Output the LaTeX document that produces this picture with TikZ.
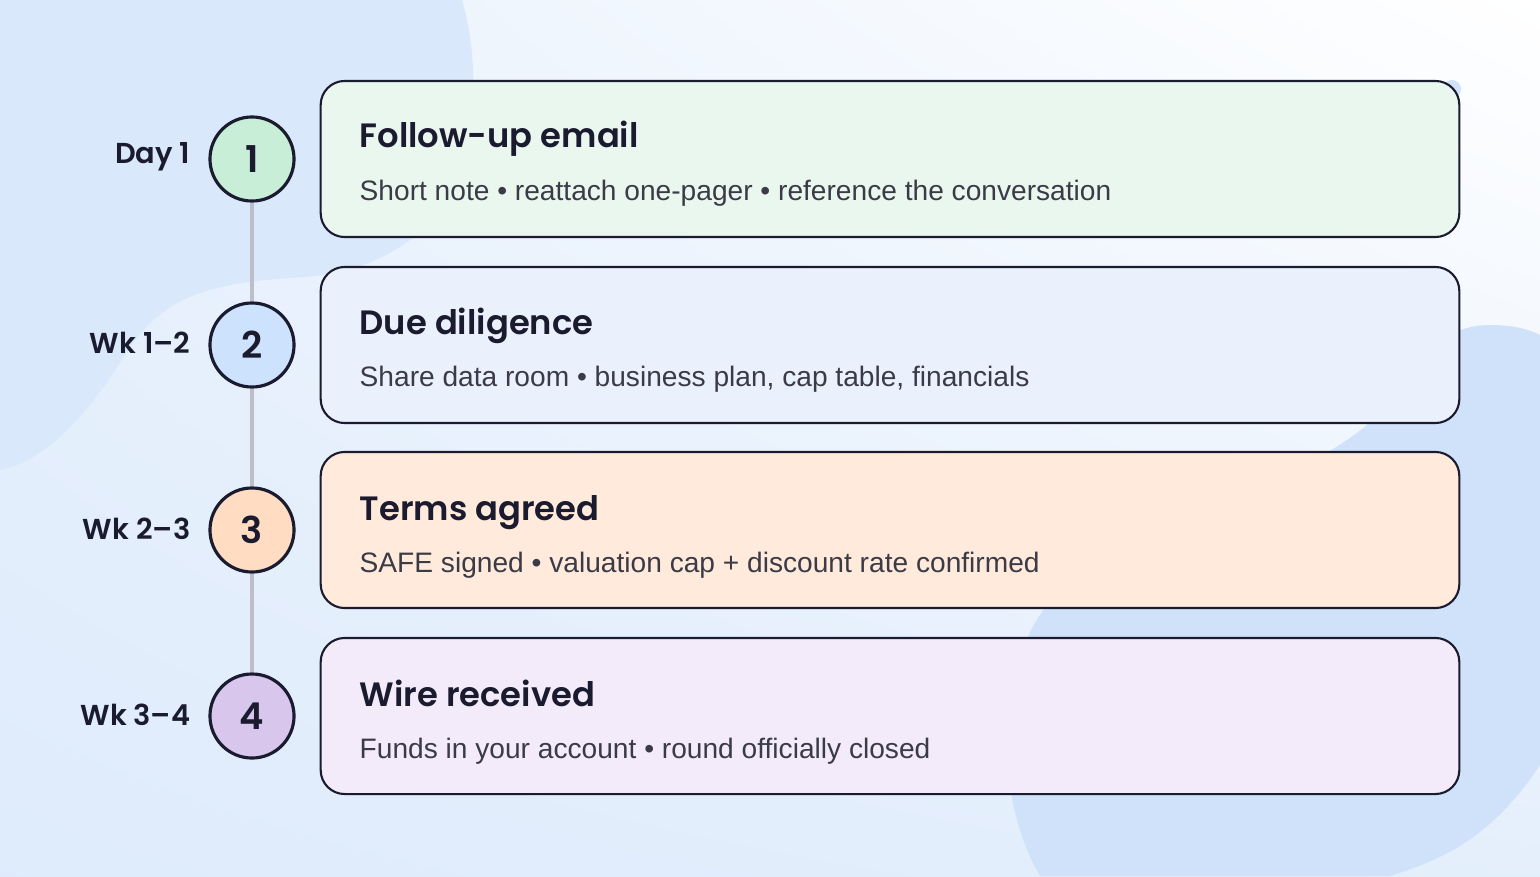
\documentclass[tikz,border=0pt]{standalone}
\usepackage{fontspec}
\setmainfont{Liberation Sans}
\newfontfamily\popfont{Poppins}[BoldFont={Poppins SemiBold}]
\usetikzlibrary{positioning}
\usetikzlibrary{shadings}

\definecolor{ink}{HTML}{1B1B2F}
\definecolor{notegray}{HTML}{3A3B47}
\definecolor{railgray}{HTML}{BDBEC8}
\definecolor{bgblob}{HTML}{D9E8FB}
\definecolor{bgblobb}{HTML}{CFE2FA}
\definecolor{cardgreen}{HTML}{EAF7EE}
\definecolor{cardblue}{HTML}{EAF1FC}
\definecolor{cardpeach}{HTML}{FFEADC}
\definecolor{cardlilac}{HTML}{F3EBFA}
\definecolor{dotgreen}{HTML}{C8EED8}
\definecolor{dotblue}{HTML}{CDE2FC}
\definecolor{dotpeach}{HTML}{FFDCC2}
\definecolor{dotlilac}{HTML}{D8C6EC}

\begin{document}
\begin{tikzpicture}[
	x=0.01cm, y=-0.01cm,
	card/.style = {draw=ink, line width=0.6pt, rounded corners=0.24cm, minimum width=11.38cm, minimum height=1.56cm, inner sep=0pt},
	stepdot/.style = {circle, draw=ink, line width=0.9pt, minimum size=0.84cm, inner sep=0pt, text=ink, font=\popfont\bfseries\fontsize{10.5}{12}\selectfont},
	when/.style = {anchor=east, text=ink, inner sep=0pt, font=\popfont\bfseries\fontsize{8.2}{9}\selectfont},
	head/.style = {anchor=base west, text=ink, inner sep=0pt, font=\popfont\bfseries\fontsize{9.6}{12}\selectfont},
	note/.style = {anchor=base west, text=notegray, inner sep=0pt, font=\fontsize{8.0}{9}\selectfont},
	rail/.style = {draw=railgray, line width=0.95pt}
	]

	% background
	\useasboundingbox (0,0) rectangle (1540,876);
	\shade[upper left=bgblob!60!white, upper right=white, lower left=bgblob!85!white, lower right=bgblob!70!white] (0,0) rectangle (1540,876);
	\fill[bgblob] (0,0) -- (462,0) .. controls (480,60) and (485,180) .. (410,240)
		.. controls (375,266) and (335,276) .. (290,278) .. controls (200,284) and (160,300) .. (125,355)
		.. controls (90,410) and (50,460) .. (0,470) -- cycle;
	\fill[bgblobb] (1040,876) .. controls (995,800) and (990,660) .. (1060,590)
		.. controls (1200,500) and (1340,470) .. (1390,400) .. controls (1420,350) and (1450,325) .. (1490,325)
		.. controls (1515,325) and (1530,330) .. (1540,335) -- (1540,765)
		.. controls (1490,840) and (1440,860) .. (1390,876) -- cycle;
	\fill[bgblobb] (1452,89) circle (9);

	\coordinate (@1) at (252,159);
	\coordinate (@2) at (252,345);
	\coordinate (@3) at (252,530);
	\coordinate (@4) at (252,716);

	% cards
	\node[card, fill=cardgreen] (card1) at (890,159) {};
	\node[card, fill=cardblue]  (card2) at (890,345) {};
	\node[card, fill=cardpeach] (card3) at (890,530) {};
	\node[card, fill=cardlilac] (card4) at (890,716) {};

	\node[head] (head1) at (359,148) {Follow-up email};
	\node[note] (note1) at (359,200) {Short note \textbullet{} reattach one-pager \textbullet{} reference the conversation};
	\node[head] (head2) at (359,334) {Due diligence};
	\node[note] (note2) at (359,386) {Share data room \textbullet{} business plan, cap table, financials};
	\node[head] (head3) at (359,520) {Terms agreed};
	\node[note] (note3) at (359,572) {SAFE signed \textbullet{} valuation cap + discount rate confirmed};
	\node[head] (head4) at (359,706) {Wire received};
	\node[note] (note4) at (359,758) {Funds in your account \textbullet{} round officially closed};

	% timeline
	\node[stepdot, fill=dotgreen] (step1) at (@1) {1};
	\node[stepdot, fill=dotblue]  (step2) at (@2) {2};
	\node[stepdot, fill=dotpeach] (step3) at (@3) {3};
	\node[stepdot, fill=dotlilac] (step4) at (@4) {4};

	\draw[rail] (step1) -- (step2);
	\draw[rail] (step2) -- (step3);
	\draw[rail] (step3) -- (step4);

	\node[when] (when1) at (191,157) {Day 1};
	\node[when] (when2) at (191,343) {Wk 1–2};
	\node[when] (when3) at (191,529) {Wk 2–3};
	\node[when] (when4) at (191,715) {Wk 3–4};

\end{tikzpicture}
\end{document}
